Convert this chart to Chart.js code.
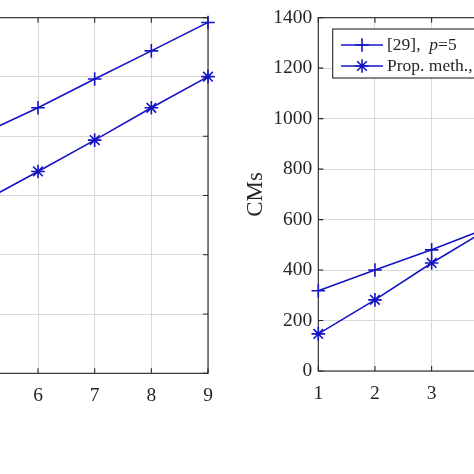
<!DOCTYPE html>
<html>
<head>
<meta charset="utf-8">
<script src="https://cdn.jsdelivr.net/npm/chart.js@4"></script>
<style>
  html, body { margin: 0; padding: 0; background: #fff; }
  body { width: 474px; height: 474px; overflow: hidden; position: relative; }
  .box { position: absolute; top: 0; height: 474px; }
  #leftBox { left: -300px; width: 537px; }
  #rightBox { left: 237px; width: 600px; }
</style>
</head>
<body>
<div class="box" id="leftBox"><canvas id="chart-left"></canvas></div>
<div class="box" id="rightBox"><canvas id="chart-right"></canvas></div>
<script>
// data
const xTicks = [1, 2, 3, 4, 5, 6, 7, 8, 9];

const leftX = [5, 6, 7, 8, 9];
const leftRef29 = [807, 896, 993, 1088, 1184];
const leftProp = [577, 681, 787, 896, 1001];
const leftYTicks = [0, 200, 400, 600, 800, 1000, 1200];

const rightX = [1, 2, 3, 4];
const rightRef29 = [318, 400, 480, 568];
const rightProp = [147, 282, 428, 563];
const rightYTicks = [0, 200, 400, 600, 800, 1000, 1200, 1400];

const seriesLabels = ['[29],  p=5', 'Prop. meth., p=5'];
const yTitle = 'CMs';

const BLUE = '#1414c4';
const AXIS = '#262626';
const GRID = '#d8d8d8';
const SERIF = '"Liberation Serif", "Times New Roman", serif';

Chart.defaults.font.family = SERIF;
Chart.defaults.color = AXIS;

const toPoints = (xs, ys) => xs.map((x, i) => ({ x: x, y: ys[i] }));

function drawMarker(ctx, style, x, y, r) {
    ctx.beginPath();
    ctx.moveTo(x - r, y); ctx.lineTo(x + r, y);
    ctx.moveTo(x, y - r); ctx.lineTo(x, y + r);
    if (style === 'star') {
        const d = r * Math.SQRT1_2;
        ctx.moveTo(x - d, y - d); ctx.lineTo(x + d, y + d);
        ctx.moveTo(x - d, y + d); ctx.lineTo(x + d, y - d);
    }
    ctx.stroke();
}

// MATLAB style box with inward ticks
const framePlugin = {
    id: 'frame',
    beforeDatasetsDraw(chart) {
        const { ctx, chartArea: a, scales } = chart;
        const tl = 5;
        ctx.save();
        ctx.strokeStyle = AXIS;
        ctx.lineWidth = 1.1;
        ctx.beginPath();
        scales.x.ticks.forEach(t => {
            const px = scales.x.getPixelForValue(t.value);
            ctx.moveTo(px, a.bottom); ctx.lineTo(px, a.bottom - tl);
            ctx.moveTo(px, a.top); ctx.lineTo(px, a.top + tl);
        });
        scales.y.ticks.forEach(t => {
            const py = scales.y.getPixelForValue(t.value);
            ctx.moveTo(a.left, py); ctx.lineTo(a.left + tl, py);
            ctx.moveTo(a.right, py); ctx.lineTo(a.right - tl, py);
        });
        ctx.stroke();
        ctx.strokeRect(a.left, a.top, a.right - a.left, a.bottom - a.top);
        ctx.restore();
    }
};

// legend box in the upper left of the right plot
const legendPlugin = {
    id: 'boxLegend',
    afterDraw(chart) {
        const ctx = chart.ctx;
        const bx = 95.7, by = 29, bh = 49;
        const rows = [45, 66];
        ctx.save();
        ctx.fillStyle = '#fff';
        ctx.fillRect(bx, by, 400, bh);
        ctx.strokeStyle = AXIS;
        ctx.lineWidth = 1.1;
        ctx.strokeRect(bx, by, 400, bh);
        chart.data.datasets.forEach((ds, i) => {
            const y = rows[i];
            ctx.strokeStyle = ds.borderColor;
            ctx.lineWidth = 1.6;
            ctx.beginPath();
            ctx.moveTo(104, y); ctx.lineTo(146, y);
            ctx.stroke();
            drawMarker(ctx, ds.pointStyle, 125, y, ds.pointRadius);
            // label, with the p in italics
            ctx.fillStyle = AXIS;
            ctx.textBaseline = 'middle';
            let x = 150;
            ds.label.split(/(p(?==))/).forEach(part => {
                ctx.font = (part === 'p' ? 'italic ' : '') + '17.5px ' + SERIF;
                ctx.fillText(part, x, y);
                x += ctx.measureText(part).width;
            });
        });
        ctx.restore();
    }
};

const starPlugin = {
    id: 'starMarkers',
    afterDatasetsDraw(chart) {
        const ctx = chart.ctx;
        ctx.save();
        chart.data.datasets.forEach((ds, i) => {
            const meta = chart.getDatasetMeta(i);
            ctx.strokeStyle = ds.borderColor;
            ctx.lineWidth = 1.6;
            meta.data.forEach(pt => drawMarker(ctx, ds.pointStyle, pt.x, pt.y, ds.pointRadius));
        });
        ctx.restore();
    }
};

function makeChart(canvas, xs, s1, s2, yTicks, geo, extraPlugins, showTitle) {
    const ds = (label, data, style) => ({
        label: label,
        data: toPoints(xs, data),
        borderColor: BLUE,
        borderWidth: 1.6,
        pointStyle: style,
        pointRadius: 6.8,
        pointHoverRadius: 6.8,
        pointBorderWidth: 0,
        pointBackgroundColor: 'rgba(0,0,0,0)',
        pointBorderColor: 'rgba(0,0,0,0)',
        tension: 0,
        fill: false,
    });
    return new Chart(canvas, {
        type: 'line',
        data: {
            datasets: [
                ds(seriesLabels[0], s1, 'cross'),
                ds(seriesLabels[1], s2, 'star'),
            ]
        },
        options: {
            responsive: true,
            maintainAspectRatio: false,
            animation: false,
            layout: { padding: { left: 0, right: geo.padRight, top: geo.padTop, bottom: 0 } },
            scales: {
                x: {
                    type: 'linear',
                    min: xTicks[0], max: xTicks[xTicks.length - 1],
                    afterBuildTicks: s => { s.ticks = xTicks.map(v => ({ value: v })); },
                    afterFit: s => { s.height = geo.xH; },
                    ticks: { color: AXIS, font: { size: 19.5 }, padding: 11, maxRotation: 0, callback: v => String(v) },
                    grid: { color: GRID, drawTicks: false },
                    border: { display: false },
                },
                y: {
                    min: yTicks[0], max: yTicks[yTicks.length - 1],
                    afterBuildTicks: s => { s.ticks = yTicks.map(v => ({ value: v })); },
                    afterFit: s => { s.width = geo.yW; },
                    ticks: { color: AXIS, font: { size: 19.5 }, padding: 6, callback: v => String(v) },
                    grid: { color: GRID, drawTicks: false },
                    border: { display: false },
                    title: {
                        display: showTitle,
                        text: yTitle,
                        color: AXIS,
                        font: { size: 23 },
                        padding: { top: 5, bottom: 0 }
                    }
                }
            },
            plugins: {
                legend: { display: false },
                tooltip: { enabled: false }
            }
        },
        plugins: [framePlugin, starPlugin].concat(extraPlugins)
    });
}

makeChart(document.getElementById('chart-left'), leftX, leftRef29, leftProp, leftYTicks,
    { padRight: 29, padTop: 6.3, xH: 100.7, yW: 54.7 }, [], false);

makeChart(document.getElementById('chart-right'), rightX, rightRef29, rightProp, rightYTicks,
    { padRight: 65.4, padTop: 15.7, xH: 103, yW: 81.3 }, [legendPlugin], true);
</script>
</body>
</html>
